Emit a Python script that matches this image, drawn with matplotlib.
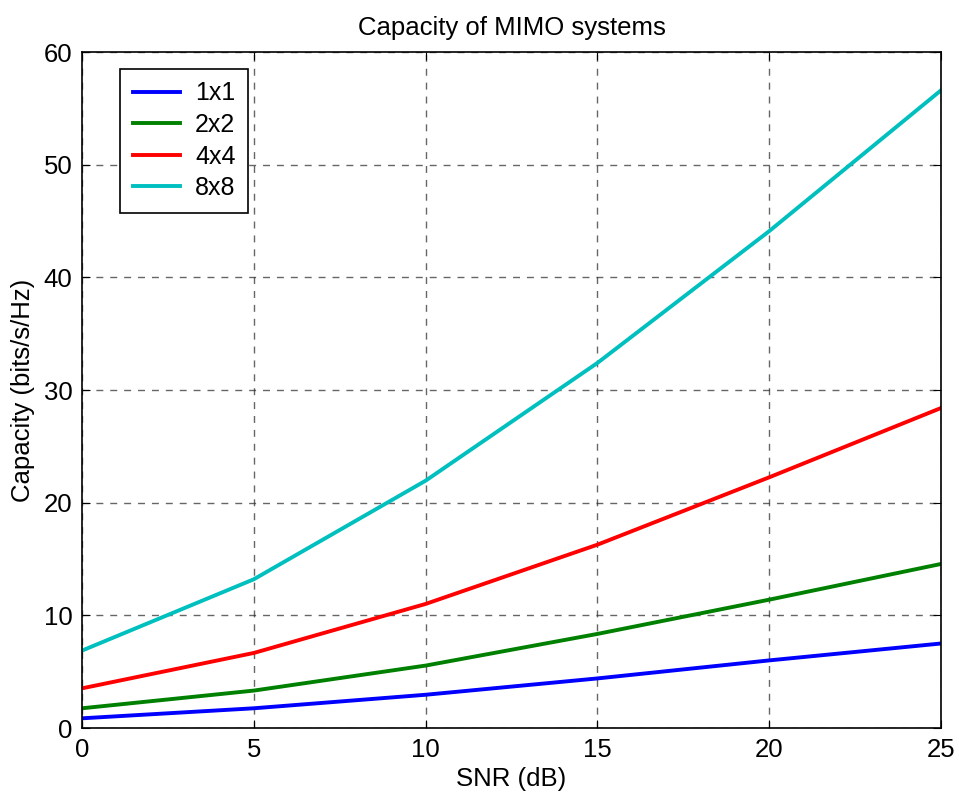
import matplotlib
matplotlib.use("Agg")
import matplotlib.pyplot as plt

snr_db = [0, 5, 10, 15, 20, 25]
cap_1x1 = [0.86, 1.75, 2.95, 4.4, 6.0, 7.5]
cap_2x2 = [1.75, 3.32, 5.54, 8.35, 11.39, 14.56]
cap_4x4 = [3.52, 6.66, 11.01, 16.27, 22.25, 28.4]
cap_8x8 = [6.87, 13.2, 21.95, 32.4, 44.1, 56.6]
labels = ["1x1", "2x2", "4x4", "8x8"]
colors = ["#0000ff", "#008000", "#ff0000", "#00bfbf"]

plt.rcParams['font.family'] = ['Liberation Sans', 'DejaVu Sans']

fig = plt.figure(figsize=(9.59, 8.01), dpi=100)
ax = fig.add_axes([82/959, 73/801, (941-82)/959, (728-52)/801])

for ys, lab, c in zip([cap_1x1, cap_2x2, cap_4x4, cap_8x8], labels, colors):
    ax.plot(snr_db, ys, color=c, lw=2.8, label=lab)

ax.set_xlim(0, 25)
ax.set_ylim(0, 60)
ax.set_xticks([0, 5, 10, 15, 20, 25])
ax.set_yticks([0, 10, 20, 30, 40, 50, 60])
ax.tick_params(direction='in', top=True, right=True, labelsize=18.5, length=6, pad=7)
ax.grid(True, color='#333333', linestyle=(0, (5, 5)), lw=1, alpha=0.75)
for s in ax.spines.values():
    s.set_linewidth(1.2)

ax.set_title("Capacity of MIMO systems", fontsize=18.5, pad=12)
ax.set_xlabel("SNR (dB)", fontsize=18.5, labelpad=4)
ax.set_ylabel("Capacity (bits/s/Hz)", fontsize=18.5, labelpad=6)

leg = ax.legend(loc='upper left', bbox_to_anchor=(38/859, 659/676), fontsize=18,
                frameon=True, fancybox=False, edgecolor='black', framealpha=1,
                handlelength=1.9, handletextpad=0.6, borderpad=0.5, labelspacing=0.3,
                borderaxespad=0)
leg.get_frame().set_linewidth(1.2)

fig.savefig("out.png", dpi=100)
